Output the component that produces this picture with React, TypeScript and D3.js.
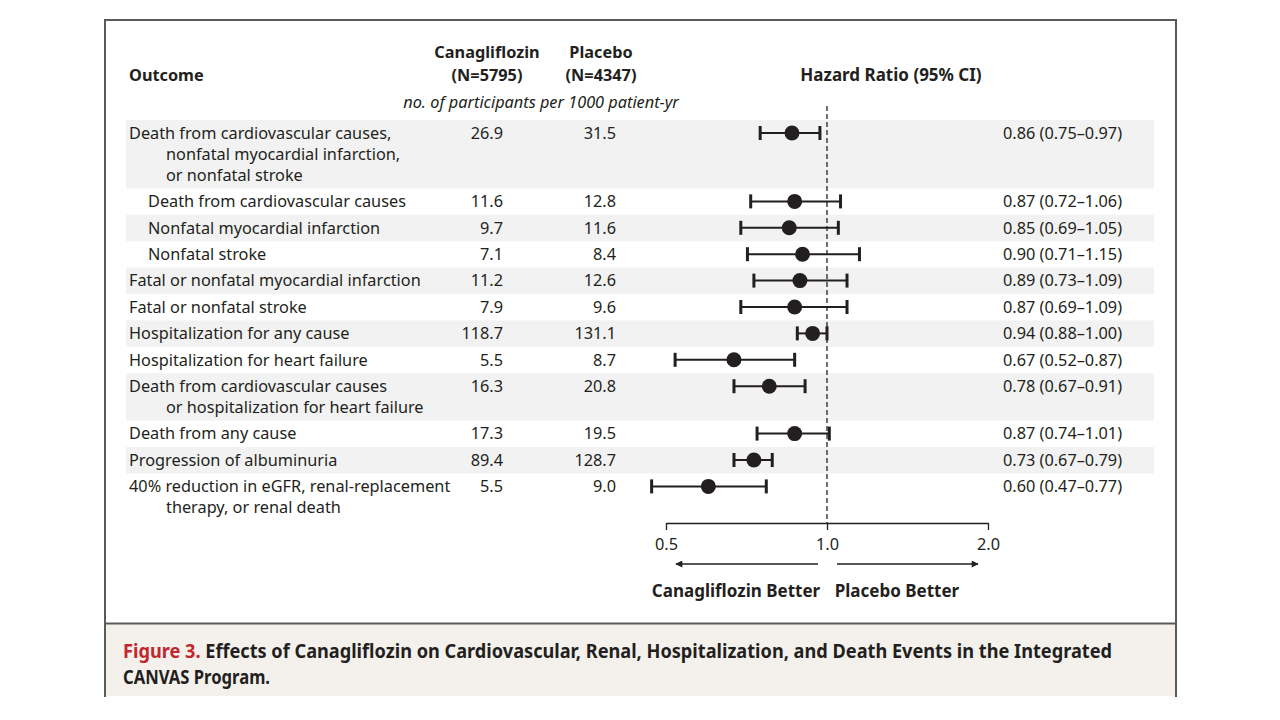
import React, { useEffect, useRef } from 'react'
import * as d3 from 'd3';

const WIDTH = 1280;
const HEIGHT = 720;

// Outcome rows (each entry is the wrapped lines of the label)
const outcomes = [
  ['Death from cardiovascular causes,', 'nonfatal myocardial infarction,', 'or nonfatal stroke'],
  ['Death from cardiovascular causes'],
  ['Nonfatal myocardial infarction'],
  ['Nonfatal stroke'],
  ['Fatal or nonfatal myocardial infarction'],
  ['Fatal or nonfatal stroke'],
  ['Hospitalization for any cause'],
  ['Hospitalization for heart failure'],
  ['Death from cardiovascular causes', 'or hospitalization for heart failure'],
  ['Death from any cause'],
  ['Progression of albuminuria'],
  ['40% reduction in eGFR, renal-replacement', 'therapy, or renal death'],
];
const subgroup = [false, true, true, true, false, false, false, false, false, false, false, false];
const canagliflozin = ['26.9', '11.6', '9.7', '7.1', '11.2', '7.9', '118.7', '5.5', '16.3', '17.3', '89.4', '5.5'];
const placebo = ['31.5', '12.8', '11.6', '8.4', '12.6', '9.6', '131.1', '8.7', '20.8', '19.5', '128.7', '9.0'];
const hazardRatio = [0.86, 0.87, 0.85, 0.90, 0.89, 0.87, 0.94, 0.67, 0.78, 0.87, 0.73, 0.60];
const ciLow = [0.75, 0.72, 0.69, 0.71, 0.73, 0.69, 0.88, 0.52, 0.67, 0.74, 0.67, 0.47];
const ciHigh = [0.97, 1.06, 1.05, 1.15, 1.09, 1.09, 1.00, 0.87, 0.91, 1.01, 0.79, 0.77];
const axisTicks = [0.5, 1.0, 2.0];

const FONT = '"Noto Sans", "Open Sans", sans-serif';
const INK = '#231f20';

const App = () => {
  const svgRef = useRef<SVGSVGElement>(null);

  useEffect(() => {
    const svg = d3.select(svgRef.current);
    svg.selectAll('*').remove();

    const x = d3.scaleLog().domain([0.5, 2.0]).range([666, 988]);
    const fmt = d3.format('.2f');

    // row layout: one base height plus an extra line height per wrapped line
    const BASE = 26.4, LINE = 21, TOP = 120;
    const rows: { top: number; h: number }[] = [];
    let y = TOP;
    outcomes.forEach(lines => {
      const h = BASE + LINE * (lines.length - 1);
      rows.push({ top: y, h });
      y += h;
    });
    const axisY = 523;

    // frame
    svg.append('rect').attr('x', 0).attr('y', 0).attr('width', WIDTH).attr('height', HEIGHT).attr('fill', '#fff');
    svg.append('rect').attr('x', 105).attr('y', 624).attr('width', 1071).attr('height', 72).attr('fill', '#f4f1ec');
    svg.append('path')
      .attr('d', 'M105,697 V20 H1176 V697 M105,623.5 H1176')
      .attr('fill', 'none').attr('stroke', '#5a5a5a').attr('stroke-width', 2);

    // shaded rows
    svg.append('g').selectAll('rect')
      .data(rows.filter((_, i) => i % 2 === 0))
      .join('rect')
        .attr('x', 126).attr('width', 1028)
        .attr('y', d => d.top).attr('height', d => d.h)
        .attr('fill', '#f2f2f2');

    const text = svg.append('g').attr('font-family', FONT).attr('fill', INK).attr('font-size', 16.3);

    // header
    text.append('text').attr('x', 129).attr('y', 81).attr('font-weight', 'bold').text('Outcome');
    [['Canagliflozin', '(N=5795)', 487], ['Placebo', '(N=4347)', 601]].forEach(([a, b, cx]) => {
      text.append('text').attr('x', cx).attr('y', 58).attr('text-anchor', 'middle').attr('font-weight', 'bold').text(a as string);
      text.append('text').attr('x', cx).attr('y', 81).attr('text-anchor', 'middle').attr('font-weight', 'bold').text(b as string);
    });
    text.append('text').attr('x', 541).attr('y', 108).attr('text-anchor', 'middle').attr('font-style', 'italic')
      .text('no. of participants per 1000 patient-yr');
    text.append('text').attr('x', 891).attr('y', 81).attr('text-anchor', 'middle').attr('font-weight', 'bold')
      .attr('font-size', 17).text('Hazard Ratio (95% CI)');

    // rows of text
    outcomes.forEach((lines, i) => {
      const cy = rows[i].top + 13;
      lines.forEach((ln, j) => {
        const lx = j > 0 ? 166 : (subgroup[i] ? 148 : 129);
        text.append('text').attr('x', lx).attr('y', cy + j * LINE).attr('dy', '0.35em').text(ln);
      });
      text.append('text').attr('x', 503).attr('y', cy).attr('dy', '0.35em').attr('text-anchor', 'end').text(canagliflozin[i]);
      text.append('text').attr('x', 616).attr('y', cy).attr('dy', '0.35em').attr('text-anchor', 'end').text(placebo[i]);
      text.append('text').attr('x', 1003).attr('y', cy).attr('dy', '0.35em')
        .text(`${fmt(hazardRatio[i])} (${fmt(ciLow[i])}\u2013${fmt(ciHigh[i])})`);
    });

    // reference line at HR = 1
    svg.append('line')
      .attr('x1', x(1)).attr('x2', x(1)).attr('y1', 106).attr('y2', axisY)
      .attr('stroke', '#333').attr('stroke-width', 1.4).attr('stroke-dasharray', '5,3');

    // CI bars and points
    const marks = svg.append('g').attr('stroke', INK);
    hazardRatio.forEach((hr, i) => {
      const cy = rows[i].top + 13;
      marks.append('line').attr('x1', x(ciLow[i])).attr('x2', x(ciHigh[i])).attr('y1', cy).attr('y2', cy).attr('stroke-width', 2);
      [ciLow[i], ciHigh[i]].forEach(v => {
        marks.append('line').attr('x1', x(v)).attr('x2', x(v)).attr('y1', cy - 7).attr('y2', cy + 7).attr('stroke-width', 3);
      });
      marks.append('circle').attr('cx', x(hr)).attr('cy', cy).attr('r', 7.5).attr('fill', INK).attr('stroke', 'none');
    });

    // axis
    const axis = d3.axisBottom(x).tickValues(axisTicks).tickSize(7).tickSizeOuter(0).tickFormat(d3.format('.1f'));
    const ax = svg.append('g').attr('transform', `translate(0,${axisY})`).call(axis);
    ax.select('.domain').attr('stroke', INK).attr('stroke-width', 1.3);
    ax.selectAll('.tick line').attr('stroke', INK).attr('stroke-width', 1.3);
    ax.selectAll('.tick text').attr('font-family', FONT).attr('font-size', 16.3).attr('fill', INK).attr('dy', '1.05em');

    // direction arrows
    const defs = svg.append('defs');
    defs.append('marker').attr('id', 'arrow').attr('viewBox', '0 0 10 10').attr('refX', 9).attr('refY', 5)
      .attr('markerWidth', 14).attr('markerHeight', 7).attr('markerUnits', 'userSpaceOnUse').attr('orient', 'auto')
      .append('path').attr('d', 'M0,0 L10,5 L0,10 Z').attr('fill', INK);
    svg.append('line').attr('x1', 818).attr('x2', 676).attr('y1', 564).attr('y2', 564)
      .attr('stroke', INK).attr('stroke-width', 1.4).attr('marker-end', 'url(#arrow)');
    svg.append('line').attr('x1', 837).attr('x2', 978).attr('y1', 564).attr('y2', 564)
      .attr('stroke', INK).attr('stroke-width', 1.4).attr('marker-end', 'url(#arrow)');
    text.append('text').attr('x', 736).attr('y', 591).attr('dy', '0.35em').attr('text-anchor', 'middle').attr('font-weight', 'bold')
      .attr('font-size', 17).text('Canagliflozin Better');
    text.append('text').attr('x', 897).attr('y', 591).attr('dy', '0.35em').attr('text-anchor', 'middle').attr('font-weight', 'bold')
      .attr('font-size', 17).text('Placebo Better');

    // caption
    const cap = svg.append('g').attr('font-family', FONT)
      .attr('font-size', 19).attr('font-weight', 'bold').attr('fill', INK);
    const line1 = cap.append('text').attr('x', 123).attr('y', 658)
      .attr('textLength', 989).attr('lengthAdjust', 'spacingAndGlyphs');
    line1.append('tspan').attr('fill', '#c1272d').text('Figure 3. ');
    line1.append('tspan').text('Effects of Canagliflozin on Cardiovascular, Renal, Hospitalization, and Death Events in the Integrated');
    cap.append('text').attr('x', 123).attr('y', 684)
      .attr('textLength', 147).attr('lengthAdjust', 'spacingAndGlyphs').text('CANVAS Program.');
  }, []);

  return (
    <svg ref={svgRef} width={WIDTH} height={HEIGHT}
      style={{ position: 'absolute', left: 0, top: 0, display: 'block' }} />
  );
}

export default App;
